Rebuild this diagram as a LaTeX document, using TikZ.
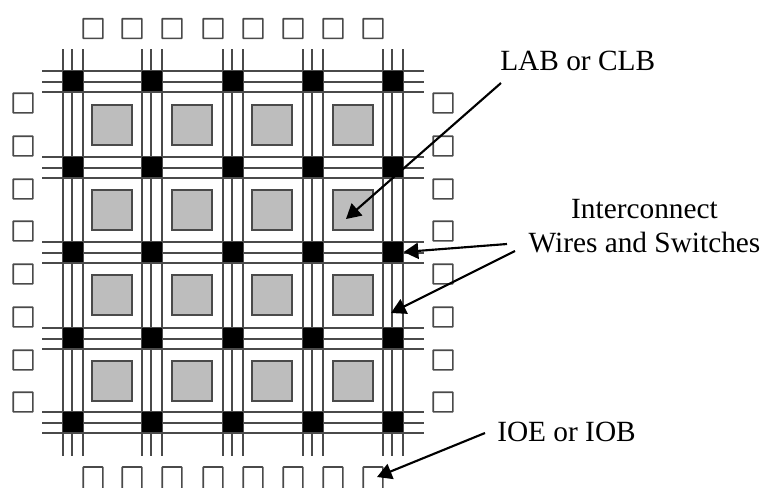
\documentclass[tikz,border=0pt]{standalone}
\usepackage{fontspec}
\setmainfont{Liberation Serif}
\usetikzlibrary{arrows.meta,positioning}
\definecolor{WireGray}{HTML}{4A4A4A}
\definecolor{LabGray}{HTML}{BDBDBD}
\begin{document}
\begin{tikzpicture}[
    x=0.75pt, y=-0.75pt,
    wire/.style={WireGray, line width=1.3pt},
    switchbox/.style={draw=none, fill=black, minimum size=15.6pt, inner sep=0pt},
    labbox/.style={draw=WireGray, line width=1.3pt, fill=LabGray, minimum width=29.5pt, minimum height=30.5pt, inner sep=0pt},
    ioe/.style={draw=WireGray, line width=1.3pt, fill=white, rounded corners=0.5pt, minimum size=14.8pt, inner sep=0pt},
    lbl/.style={font=\fontsize{22}{26}\selectfont, align=center, inner sep=0pt},
    arr/.style={-{Triangle[length=11pt,width=12pt]}, line width=1.6pt, black}
  ]
    \useasboundingbox (0,0) rectangle (764,487);
    % wires
    \foreach \y in {81,167,252,338,422} {
      \draw[wire] (42,\y-10) -- (424,\y-10);
      \draw[wire] (42,\y+1) -- (424,\y+1);
      \draw[wire] (42,\y+11) -- (424,\y+11);
    }
    \foreach \x in {73,152,233,313,393} {
      \draw[wire] (\x-10,49) -- (\x-10,456);
      \draw[wire] (\x-1,49) -- (\x-1,456);
      \draw[wire] (\x+10,49) -- (\x+10,456);
    }
    % switches
    \foreach \x [count=\i] in {73,152,233,313,393}
      \foreach \y [count=\j] in {81,167,252,338,422}
        \node[switchbox] (sw\i\j) at (\x,\y) {};
    % logic blocks
    \foreach \x [count=\i] in {112,192,272,353}
      \foreach \y [count=\j] in {125,210,295,381}
        \node[labbox] (lab\i\j) at (\x,\y) {};
    % io blocks
    \foreach \x [count=\i] in {93,132,172,213,253,293,333,373} {
      \node[ioe] (top\i) at (\x,28.5) {};
      \node[ioe, minimum height=16.5pt] (bot\i) at (\x,478) {};
    }
    \foreach \y [count=\j] in {103,146,189,231,274,317,360,402} {
      \node[ioe] (lft\j) at (23,\y) {};
      \node[ioe] (rgt\j) at (443,\y) {};
    }
    % labels
    \node[lbl, anchor=base west] (labtxt) at (500,70) {LAB or CLB};
    \node[lbl] (wiretxt) at (644.5,226) {Interconnect\\Wires and Switches};
    \node[lbl, anchor=base west] (ioetxt) at (497,441) {IOE or IOB};
    \coordinate (labstart) at (501,83);
    \coordinate (swstart) at (507,244);
    \coordinate (wirestart) at (515,251);
    \coordinate (ioestart) at (485,433);
    \coordinate (labtip) at (346,219);
    \coordinate (wiretip) at (391,313);
    \coordinate (ioetip) at (377,477);
    \draw[arr] (labstart) -- (labtip);
    \draw[arr] (swstart) -- (sw53.east);
    \draw[arr] (wirestart) -- (wiretip);
    \draw[arr] (ioestart) -- (ioetip);
  \end{tikzpicture}
\end{document}
